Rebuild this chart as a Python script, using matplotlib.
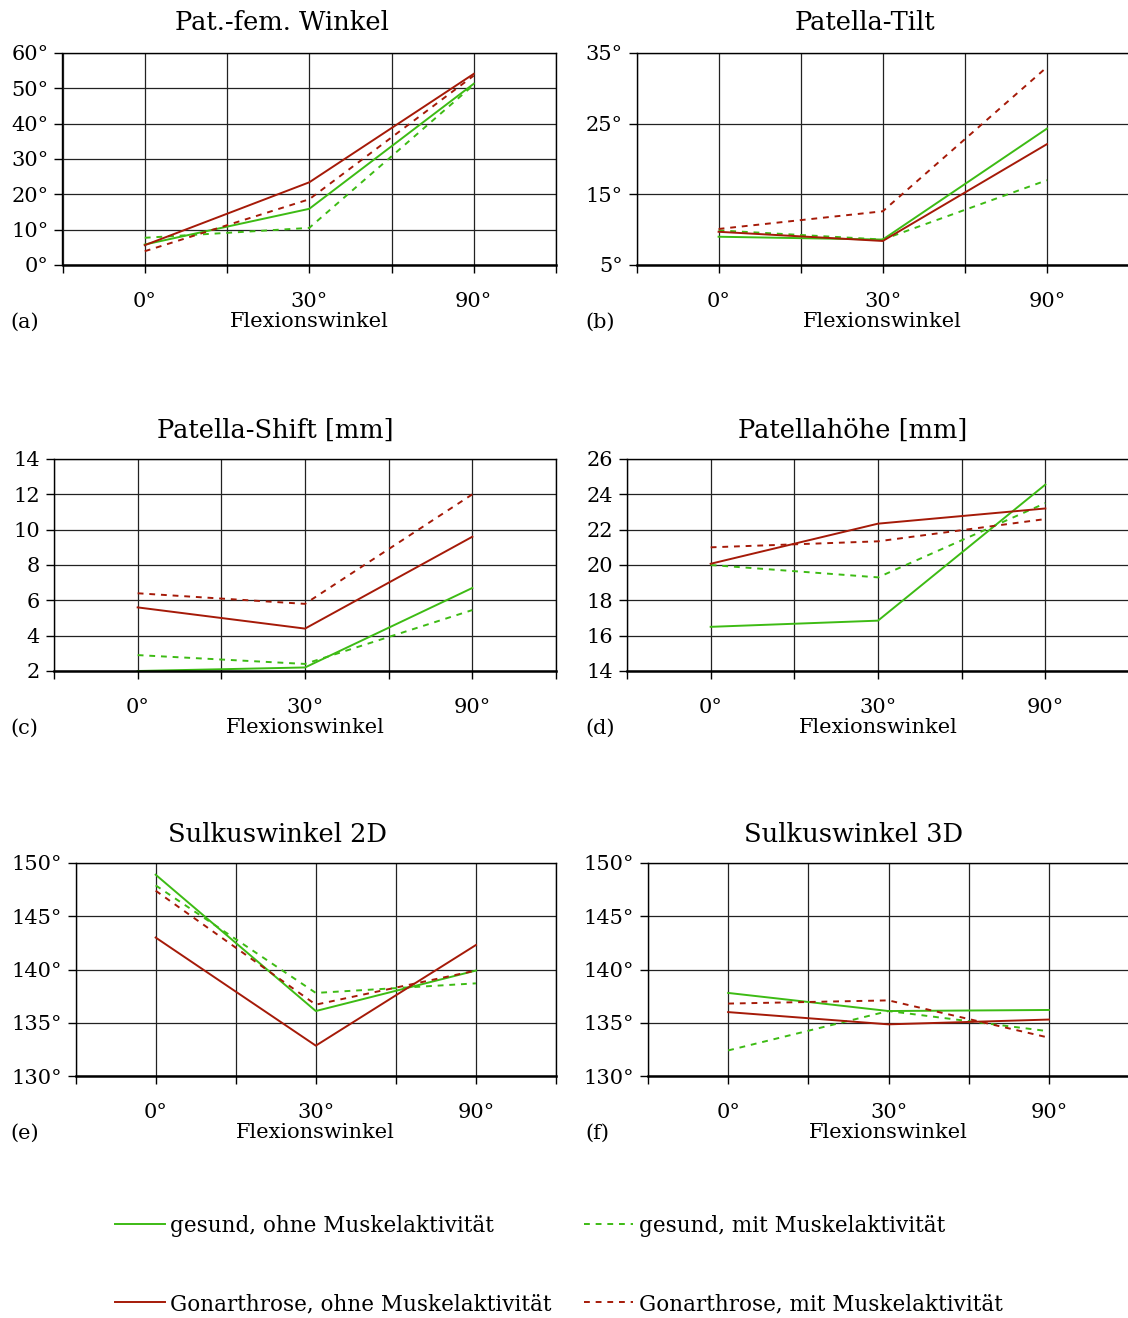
import numpy as np
import matplotlib.pyplot as plt
from matplotlib.ticker import FixedLocator

plt.rcParams['font.family'] = ['DejaVu Serif']

# categories (flexion angle)
winkel = ['0°', '30°', '90°']

# (a) Pat.-fem. Winkel
a_gs = [5.8, 15.9, 51.3]
a_gm = [7.7, 10.5, 51.0]
a_os = [5.6, 23.4, 54.1]
a_om = [3.9, 18.6, 53.6]

# (b) Patella-Tilt
b_gs = [9.0, 8.6, 24.3]
b_gm = [9.9, 8.6, 17.0]
b_os = [9.7, 8.4, 22.1]
b_om = [10.1, 12.6, 33.0]

# (c) Patella-Shift [mm]
c_gs = [2.0, 2.2, 6.7]
c_gm = [2.9, 2.4, 5.45]
c_os = [5.6, 4.4, 9.6]
c_om = [6.4, 5.8, 12.0]

# (d) Patellahöhe [mm]
d_gs = [16.5, 16.85, 24.55]
d_gm = [20.0, 19.3, 23.5]
d_os = [20.07, 22.34, 23.2]
d_om = [21.0, 21.34, 22.6]

# (e) Sulkuswinkel 2D
e_gs = [148.9, 136.1, 139.9]
e_gm = [147.9, 137.8, 138.7]
e_os = [143.0, 132.85, 142.3]
e_om = [147.4, 136.7, 139.9]

# (f) Sulkuswinkel 3D
f_gs = [137.8, 136.1, 136.2]
f_gm = [132.4, 136.1, 134.2]
f_os = [136.0, 134.85, 135.3]
f_om = [136.8, 137.1, 133.6]

titles = ['Pat.-fem. Winkel', 'Patella-Tilt', 'Patella-Shift [mm]',
          'Patellahöhe [mm]', 'Sulkuswinkel 2D', 'Sulkuswinkel 3D']
panel_ids = ['(a)', '(b)', '(c)', '(d)', '(e)', '(f)']
yticks = [[0, 10, 20, 30, 40, 50, 60], [5, 15, 25, 35],
          [2, 4, 6, 8, 10, 12, 14], [14, 16, 18, 20, 22, 24, 26],
          [130, 135, 140, 145, 150], [130, 135, 140, 145, 150]]
deg = [True, True, False, False, True, True]
data = [(a_gs, a_gm, a_os, a_om), (b_gs, b_gm, b_os, b_om),
        (c_gs, c_gm, c_os, c_om), (d_gs, d_gm, d_os, d_om),
        (e_gs, e_gm, e_os, e_om), (f_gs, f_gm, f_os, f_om)]

labels = ['gesund, ohne Muskelaktivität', 'gesund, mit Muskelaktivität',
          'Gonarthrose, ohne Muskelaktivität', 'Gonarthrose, mit Muskelaktivität']

green = '#3dbb14'
red = '#a51a08'

W, H = 1128, 1318
fig = plt.figure(figsize=(W / 100, H / 100), dpi=100)

# axes boxes in pixels: left, right, top, bottom
boxes = [(62.5, 556, 53, 265), (636.5, 1129, 53, 265),
         (54, 556, 459, 671), (627, 1129, 459, 671),
         (75.6, 556, 863, 1076), (648, 1129, 863, 1076)]
title_pos = [(282, 23), (865, 23), (275, 430), (853, 430), (278, 835), (854, 835)]

x = np.arange(len(winkel))
handles = []
for i, (l, r, t, b) in enumerate(boxes):
    ax = fig.add_axes([l / W, 1 - b / H, (r - l) / W, (b - t) / H])
    gs, gm, os_, om = data[i]
    h1, = ax.plot(x, gs, color=green, lw=1.4)
    h2, = ax.plot(x, gm, color=green, lw=1.4, ls=(0, (3, 3)))
    h3, = ax.plot(x, os_, color=red, lw=1.4)
    h4, = ax.plot(x, om, color=red, lw=1.4, ls=(0, (3, 3)))
    if i == 0:
        handles = [h1, h3, h2, h4]
    ax.set_xlim(-0.5, 2.5)
    yt = yticks[i]
    ax.set_ylim(yt[0], yt[-1])
    ax.set_yticks(yt)
    ax.set_yticklabels([f'{v}°' if deg[i] else f'{v}' for v in yt])
    ax.set_xticks(x)
    ax.set_xticklabels(winkel)
    ax.xaxis.set_minor_locator(FixedLocator([-0.5, 0.5, 1.5, 2.5]))
    ax.tick_params(axis='x', which='major', length=6, width=1, pad=13.5, labelsize=15)
    ax.tick_params(axis='x', which='minor', length=6, width=1)
    ax.tick_params(axis='y', length=6, width=1, pad=4, labelsize=15)
    ax.grid(True, which='both', color='#222222', lw=0.9)
    ax.set_axisbelow(True)
    for s in ax.spines.values():
        s.set_linewidth(1.0)
    ax.spines['bottom'].set_linewidth(1.8)
    ax.set_xlabel('Flexionswinkel', fontsize=15, labelpad=1)
    tx, ty = title_pos[i]
    fig.text(tx / W, 1 - ty / H, titles[i], fontsize=18.5, ha='center', va='center')
    px = 10 if i % 2 == 0 else 585
    fig.text(px / W, 1 - (b + 57) / H, panel_ids[i], fontsize=15, ha='left', va='center')

fig.legend(handles, [labels[0], labels[2], labels[1], labels[3]], ncol=2,
           loc='upper left', bbox_to_anchor=(115 / W, 1 - 1215 / H),
           frameon=False, fontsize=15.5, handlelength=2.3, handletextpad=0.25,
           columnspacing=1.5, labelspacing=2.6, borderpad=0, borderaxespad=0)

fig.savefig('out.png', dpi=100)
